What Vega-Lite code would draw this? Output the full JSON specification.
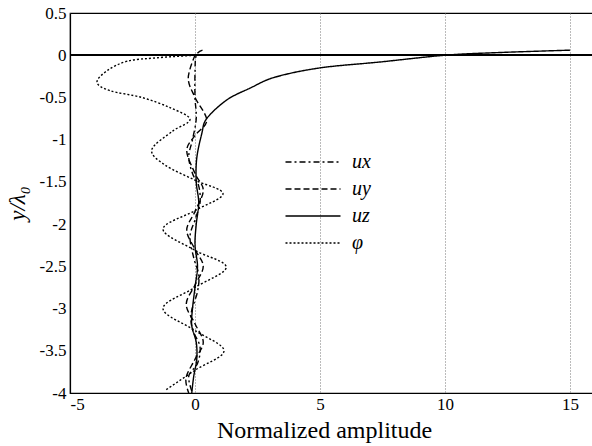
{
  "$schema": "https://vega.github.io/schema/vega-lite/v6.json",
  "autosize": "none",
  "padding": {"left": 70, "top": 13, "right": 0, "bottom": 53},
  "width": 525,
  "height": 380,
  "background": "white",
  "config": {
    "font": "Liberation Serif, DejaVu Serif, serif",
    "view": {"stroke": "black", "strokeWidth": 1.2},
    "axis": {
      "labelFont": "Liberation Serif, DejaVu Serif, serif", "labelFontSize": 17, "labelColor": "black",
      "titleFont": "Liberation Serif, DejaVu Serif, serif", "titleFontWeight": "normal", "titleColor": "black",
      "domainColor": "black", "domainWidth": 1.2,
      "gridColor": "#777", "gridDash": [1, 2], "gridWidth": 1
    },
    "legend": {"labelFont": "Liberation Serif, DejaVu Serif, serif"}
  },
  "data": {"values": [
    {"s":"ux","i":0,"x":0.3,"y":0.06},{"s":"ux","i":1,"x":0.05,"y":0.0},{"s":"ux","i":2,"x":0.0,"y":-0.2},{"s":"ux","i":3,"x":0.0,"y":-0.5},{"s":"ux","i":4,"x":0.05,"y":-0.75},{"s":"ux","i":5,"x":-0.1,"y":-1.0},{"s":"ux","i":6,"x":-0.25,"y":-1.2},{"s":"ux","i":7,"x":-0.1,"y":-1.4},{"s":"ux","i":8,"x":0.15,"y":-1.55},{"s":"ux","i":9,"x":0.2,"y":-1.75},{"s":"ux","i":10,"x":0.0,"y":-1.95},{"s":"ux","i":11,"x":-0.2,"y":-2.15},{"s":"ux","i":12,"x":-0.05,"y":-2.4},{"s":"ux","i":13,"x":0.15,"y":-2.6},{"s":"ux","i":14,"x":0.1,"y":-2.8},{"s":"ux","i":15,"x":-0.15,"y":-3.05},{"s":"ux","i":16,"x":-0.1,"y":-3.25},{"s":"ux","i":17,"x":0.2,"y":-3.45},{"s":"ux","i":18,"x":0.1,"y":-3.65},{"s":"ux","i":19,"x":-0.25,"y":-3.8},{"s":"ux","i":20,"x":-0.1,"y":-4.0},
    {"s":"uy","i":0,"x":0.0,"y":0.0},{"s":"uy","i":1,"x":-0.27,"y":-0.27},{"s":"uy","i":2,"x":0.0,"y":-0.5},{"s":"uy","i":3,"x":0.47,"y":-0.77},{"s":"uy","i":4,"x":0.0,"y":-0.95},{"s":"uy","i":5,"x":-0.33,"y":-1.13},{"s":"uy","i":6,"x":0.0,"y":-1.4},{"s":"uy","i":7,"x":0.33,"y":-1.6},{"s":"uy","i":8,"x":0.0,"y":-1.85},{"s":"uy","i":9,"x":-0.33,"y":-2.07},{"s":"uy","i":10,"x":0.0,"y":-2.3},{"s":"uy","i":11,"x":0.33,"y":-2.5},{"s":"uy","i":12,"x":0.0,"y":-2.72},{"s":"uy","i":13,"x":-0.35,"y":-2.95},{"s":"uy","i":14,"x":0.0,"y":-3.18},{"s":"uy","i":15,"x":0.33,"y":-3.4},{"s":"uy","i":16,"x":0.0,"y":-3.6},{"s":"uy","i":17,"x":-0.36,"y":-3.82},{"s":"uy","i":18,"x":-0.25,"y":-4.0},
    {"s":"uz","i":0,"x":15,"y":0.06},{"s":"uz","i":1,"x":12,"y":0.03},{"s":"uz","i":2,"x":10,"y":0.0},{"s":"uz","i":3,"x":7.4,"y":-0.08},{"s":"uz","i":4,"x":5,"y":-0.15},{"s":"uz","i":5,"x":3.2,"y":-0.26},{"s":"uz","i":6,"x":2.2,"y":-0.39},{"s":"uz","i":7,"x":1.27,"y":-0.53},{"s":"uz","i":8,"x":0.47,"y":-0.75},{"s":"uz","i":9,"x":0.27,"y":-0.93},{"s":"uz","i":10,"x":0.07,"y":-1.22},{"s":"uz","i":11,"x":0.05,"y":-1.5},{"s":"uz","i":12,"x":0.15,"y":-1.75},{"s":"uz","i":13,"x":0.05,"y":-2.0},{"s":"uz","i":14,"x":0.0,"y":-2.25},{"s":"uz","i":15,"x":0.1,"y":-2.5},{"s":"uz","i":16,"x":0.0,"y":-2.75},{"s":"uz","i":17,"x":-0.1,"y":-3.0},{"s":"uz","i":18,"x":-0.13,"y":-3.2},{"s":"uz","i":19,"x":0.05,"y":-3.4},{"s":"uz","i":20,"x":0.07,"y":-3.6},{"s":"uz","i":21,"x":-0.05,"y":-3.8},{"s":"uz","i":22,"x":-0.13,"y":-4.0},
    {"s":"φ","i":0,"x":0.0,"y":0.0},{"s":"φ","i":1,"x":-1.5,"y":-0.03},{"s":"φ","i":2,"x":-2.7,"y":-0.07},{"s":"φ","i":3,"x":-3.5,"y":-0.18},{"s":"φ","i":4,"x":-3.92,"y":-0.32},{"s":"φ","i":5,"x":-3.4,"y":-0.42},{"s":"φ","i":6,"x":-2.13,"y":-0.5},{"s":"φ","i":7,"x":-1.0,"y":-0.62},{"s":"φ","i":8,"x":-0.2,"y":-0.76},{"s":"φ","i":9,"x":-0.9,"y":-0.9},{"s":"φ","i":10,"x":-1.73,"y":-1.12},{"s":"φ","i":11,"x":-1.2,"y":-1.3},{"s":"φ","i":12,"x":0.0,"y":-1.48},{"s":"φ","i":13,"x":1.12,"y":-1.64},{"s":"φ","i":14,"x":0.0,"y":-1.84},{"s":"φ","i":15,"x":-1.28,"y":-2.06},{"s":"φ","i":16,"x":0.0,"y":-2.31},{"s":"φ","i":17,"x":1.25,"y":-2.51},{"s":"φ","i":18,"x":0.0,"y":-2.75},{"s":"φ","i":19,"x":-1.28,"y":-3.0},{"s":"φ","i":20,"x":0.0,"y":-3.26},{"s":"φ","i":21,"x":1.16,"y":-3.5},{"s":"φ","i":22,"x":0.0,"y":-3.73},{"s":"φ","i":23,"x":-1.2,"y":-3.97}
  ]},
  "layer": [
    {
      "mark": {"type": "rule", "color": "black", "strokeWidth": 1.3},
      "encoding": {"y": {"datum": 0, "type": "quantitative"}}
    },
    {
      "mark": {"type": "line", "color": "black", "strokeWidth": 1.4, "interpolate": "cardinal", "clip": true},
      "encoding": {
        "x": {"field": "x", "type": "quantitative",
          "scale": {"domain": [-5, 16], "nice": false, "zero": false},
          "axis": {"values": [-5, 0, 5, 10, 15], "labelExpr": "datum.value", "title": "Normalized amplitude", "titleFontSize": 24, "titlePadding": 6, "titleX": 254, "labelFontSize": 17, "labelPadding": 3, "ticks": false}},
        "y": {"field": "y", "type": "quantitative",
          "scale": {"domain": [-4, 0.5], "nice": false, "zero": false},
          "axis": {"values": [-4, -3.5, -3, -2.5, -2, -1.5, -1, -0.5, 0, 0.5], "labelExpr": "datum.value", "title": "y/λ₀", "titleFontSize": 23, "titleFontStyle": "italic", "titlePadding": 10, "labelFontSize": 17, "labelPadding": 4, "ticks": false}},
        "order": {"field": "i", "type": "quantitative"},
        "strokeDash": {"field": "s", "type": "nominal",
          "scale": {"domain": ["ux", "uy", "uz", "φ"], "range": [[6, 3, 2, 3], [6, 3], [1, 0], [2, 2]]},
          "legend": {"title": null, "orient": "none", "legendX": 232, "legendY": 138, "symbolType": "M-2.75,0H2.75", "symbolSize": 400, "symbolStrokeWidth": 1.5, "symbolStrokeColor": "black", "labelFontSize": 20, "labelFontStyle": "italic", "labelColor": "black", "rowPadding": 6, "labelOffset": 28}
        }
      }
    }
  ]
}
